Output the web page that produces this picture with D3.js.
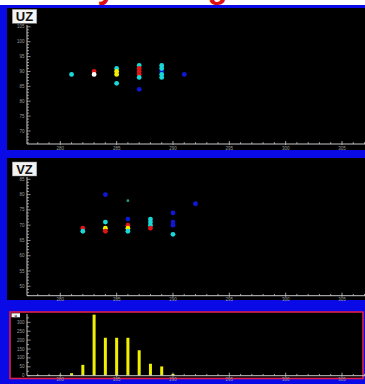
<!DOCTYPE html>
<html><head><meta charset="utf-8">
<script src="https://cdn.jsdelivr.net/npm/d3@7/dist/d3.min.js"></script>
<style>html,body{margin:0;padding:0;background:#fff;overflow:hidden}svg{display:block}</style>
</head><body>
<script>
// ---- data ----
const titleText = "Velocity Histogram";
const xTickLabels = [280, 285, 290, 295, 300, 305];

const uzX = [281,283,283,285,285,285,285,287,287,287,287,287,287,289,289,289,289,289,291];
const uzY = [89, 90, 89, 91, 90, 89, 86, 92, 91, 90, 89, 88, 84, 90, 92, 91, 89, 88, 89];
const uzC = ["cyan","red","white","cyan","yellow","yellow","cyan","cyan","red","red","red","cyan","blue","blue","cyan","cyan","cyan","cyan","blue"];
const uzTickLabels = [70, 75, 80, 85, 90, 95, 100, 105];

const vzX = [282,282,284,284,284,284,286,286,286,286,286,288,288,288,288,290,290,290,290,292];
const vzY = [69, 68, 80, 71, 69, 68, 78, 72, 70, 69, 68, 72, 71, 70, 69, 74, 71, 70, 67, 77];
const vzC = ["red","cyan","blue","cyan","yellow","red","teal","blue","red","yellow","cyan","cyan","cyan","cyan","red","blue","blue","blue","cyan","blue"];
const vzTickLabels = [50, 55, 60, 65, 70, 75, 80, 85];

const histX = [278,279,280,281,282,283,284,285,286,287,288,289,290];
const histV = [3, 3, 5, 14, 61, 343, 213, 213, 213, 143, 67, 52, 10];
const histTickLabels = [0, 50, 100, 150, 200, 250, 300];

const colorMap = {cyan:"#1ad8d8", red:"#e01414", white:"#ffffff", yellow:"#f2f000", blue:"#1018d8", teal:"#2a9a8a"};

// ---- drawing ----
const W = 365, H = 384;
const svg = d3.select("body").append("svg").attr("width", W).attr("height", H);

svg.append("rect").attr("width", W).attr("height", H).attr("fill", "#ffffff");
// title (mostly cut off at the top, as in the reference)
svg.append("text").attr("x", -9).attr("y", -2.5)
  .attr("font-family", "Liberation Sans, Arial, sans-serif").attr("font-weight", "bold")
  .attr("font-size", 33).attr("fill", "#e01010").text(titleText);

// blue frame
svg.append("rect").attr("x", 0).attr("y", 5).attr("width", W).attr("height", H - 5).attr("fill", "#0a0ae6");

// panel backgrounds
svg.append("rect").attr("x", 7).attr("y", 8).attr("width", W - 7).attr("height", 142).attr("fill", "#000");
svg.append("rect").attr("x", 7).attr("y", 158).attr("width", W - 7).attr("height", 142).attr("fill", "#000");
svg.append("rect").attr("x", 10).attr("y", 312).attr("width", 353).attr("height", 66.5)
  .attr("fill", "#000").attr("stroke", "#e0204a").attr("stroke-width", 1.6);

// shared x scale
const xBase = d3.scaleLinear().domain([280, 305]).range([60.3, 342]);
const xAxisScale = xBase.copy().domain([xBase.invert(27), xBase.invert(365)]).range([27, 365]);
const axisColor = "#c8c8c8";
const fontF = "Liberation Sans, Arial, sans-serif";

function drawXAxis(yPos) {
  const g = svg.append("g").attr("transform", `translate(0,${yPos})`);
  const minor = d3.range(278, 308);
  g.append("line").attr("x1", 27).attr("x2", 365).attr("stroke", axisColor).attr("stroke-width", 1);
  g.selectAll("line.mn").data(minor).join("line").attr("class", "mn")
    .attr("x1", d => xAxisScale(d)).attr("x2", d => xAxisScale(d))
    .attr("y1", d => d % 5 === 0 ? -3 : -1.8).attr("y2", d => d % 5 === 0 ? 1 : 0)
    .attr("stroke", axisColor).attr("stroke-width", 0.8);
  g.selectAll("text").data(xTickLabels).join("text")
    .attr("x", d => xAxisScale(d)).attr("y", 5.5).attr("text-anchor", "middle")
    .attr("font-family", fontF).attr("font-size", 4.5).attr("fill", "#9a9a9a").text(d => d);
}

function drawYAxis(y, top, bottom, labels, minorStep) {
  const g = svg.append("g");
  g.append("line").attr("x1", 27).attr("x2", 27).attr("y1", top).attr("y2", bottom).attr("stroke", axisColor).attr("stroke-width", 1);
  const d0 = y.invert(bottom), d1 = y.invert(top);
  const minor = d3.range(Math.ceil(d0 / minorStep) * minorStep, d1, minorStep);
  const majorStep = labels[1] - labels[0];
  g.selectAll("line.mn").data(minor).join("line").attr("class", "mn")
    .attr("x1", 27).attr("x2", d => Math.abs(d % majorStep) < 1e-6 ? 30.5 : 29)
    .attr("y1", d => y(d)).attr("y2", d => y(d))
    .attr("stroke", axisColor).attr("stroke-width", 0.7);
  g.selectAll("text").data(labels).join("text")
    .attr("x", 24.5).attr("y", d => y(d) + 1.5).attr("text-anchor", "end")
    .attr("font-family", fontF).attr("font-size", 4.5).attr("fill", "#9a9a9a").text(d => d);
}

function labelBox(x, y, txt) {
  svg.append("rect").attr("x", x).attr("y", y).attr("width", 24.5).attr("height", 14)
    .attr("fill", "#f4f4f4").attr("stroke", "#888").attr("stroke-width", 0.5);
  svg.append("text").attr("x", x + 12.2).attr("y", y + 11.5).attr("text-anchor", "middle")
    .attr("font-family", fontF).attr("font-weight", "bold").attr("font-size", 13).attr("fill", "#111").text(txt);
}

// ---- Panel 1: UZ ----
const yUZ = d3.scaleLinear().domain([70, 100]).range([131, 41.7]);
drawYAxis(yUZ, 25, 144, uzTickLabels, 1);
drawXAxis(144);
labelBox(12.3, 9.3, "UZ");
svg.append("g").selectAll("circle").data(uzX).join("circle")
  .attr("cx", (d, i) => xBase(d)).attr("cy", (d, i) => yUZ(uzY[i])).attr("r", 2.4)
  .attr("fill", (d, i) => colorMap[uzC[i]]);

// ---- Panel 2: VZ ----
const yVZ = d3.scaleLinear().domain([50, 85]).range([286.3, 179.3]);
drawYAxis(yVZ, 177, 295.7, vzTickLabels, 1);
drawXAxis(295.7);
labelBox(12.3, 162, "VZ");
svg.append("g").selectAll("circle").data(vzX).join("circle")
  .attr("cx", (d, i) => xBase(d)).attr("cy", (d, i) => yVZ(vzY[i]))
  .attr("r", (d, i) => vzC[i] === "teal" ? 1.4 : 2.4)
  .attr("fill", (d, i) => colorMap[vzC[i]]);

// ---- Panel 3: histogram ----
const yH = d3.scaleLinear().domain([0, 300]).range([375.7, 322.3]);
svg.append("g").selectAll("rect").data(histX).join("rect")
  .attr("x", d => xBase(d) - 1.5).attr("width", 3)
  .attr("y", (d, i) => yH(histV[i])).attr("height", (d, i) => yH(0) - yH(histV[i]))
  .attr("fill", "#f0f000");
drawYAxis(yH, 314, 375.7, histTickLabels, 25);
drawXAxis(375.7);
svg.append("rect").attr("x", 11.5).attr("y", 313.3).attr("width", 8.5).attr("height", 4)
  .attr("fill", "#f4f4f4");
svg.append("text").attr("x", 15.7).attr("y", 316.8).attr("text-anchor", "middle")
  .attr("font-family", fontF).attr("font-weight", "bold").attr("font-size", 4).attr("fill", "#111").text("u");
</script>
</body></html>
